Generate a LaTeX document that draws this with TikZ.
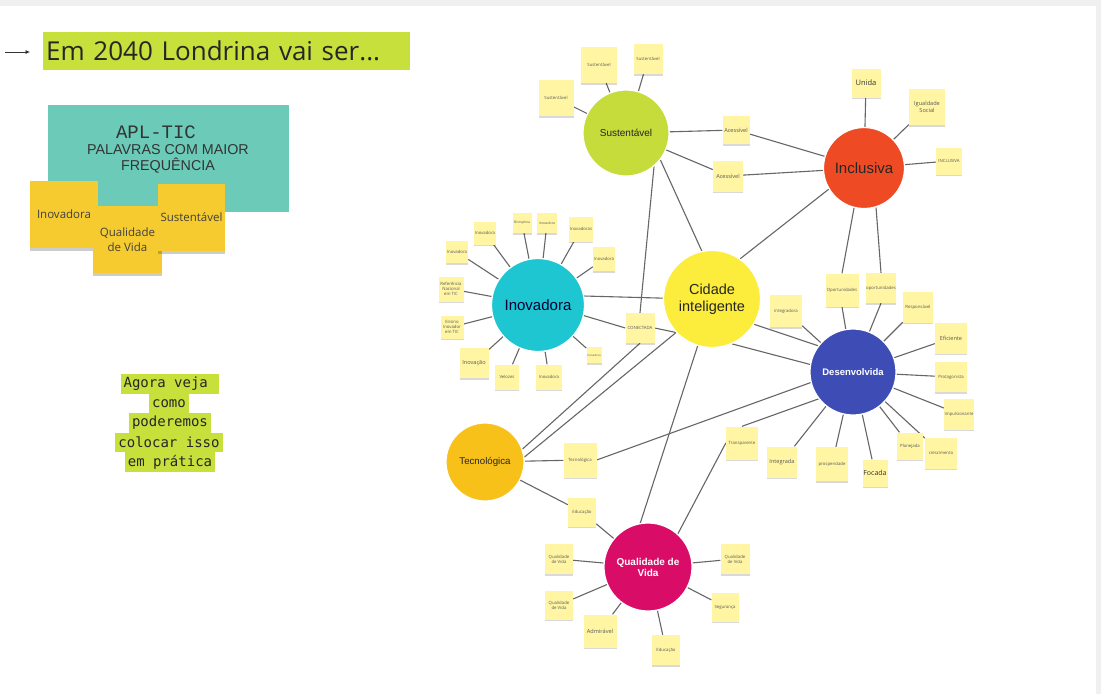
\documentclass[tikz,border=0pt]{standalone}
\usepackage{fontspec}
\setmainfont{Open Sans}
\setsansfont{Liberation Sans}
\setmonofont{Liberation Mono}
\newfontfamily\platemono{DejaVu Sans Mono}
\usepackage{xcolor}
\usetikzlibrary{arrows.meta,positioning,shadows,backgrounds}
\definecolor{limao}{HTML}{C8E03C}
\definecolor{turquesa}{HTML}{6BCBB8}
\definecolor{notaforte}{HTML}{F5CB30}
\definecolor{notaclara}{HTML}{FFF5A3}
\definecolor{sustverde}{HTML}{C5DC3B}
\definecolor{inclver}{HTML}{EE4B25}
\definecolor{inovciano}{HTML}{1EC6D2}
\definecolor{cidamarelo}{HTML}{FCEC3B}
\definecolor{desazul}{HTML}{3E4DB6}
\definecolor{tecouro}{HTML}{F8C11A}
\definecolor{qdvmagenta}{HTML}{D90D68}
\definecolor{linha}{HTML}{666666}
\newcommand\letrap{\fontsize{4.3}{5}\selectfont}
\newcommand\letram{\fontsize{5.6}{6.6}\selectfont}
\newcommand\letrag{\fontsize{7.5}{9}\selectfont}

\begin{document}
\begin{tikzpicture}[
    x=1pt,y=-1pt,
    bolha/.style  = {circle,draw=white,line width=1.2pt,inner sep=0pt,
                     align=center,font=\sffamily,text=black!85},
    nota/.style   = {rectangle,fill=notaclara,align=center,inner sep=0.5pt,
                     font=\letrap,text=black!65,minimum width=30pt,
                     minimum height=30pt,
                     drop shadow={shadow xshift=0pt,shadow yshift=-1.5pt,
                                  opacity=.15,fill=black}},
    tam/.style 2 args = {minimum width=#1pt,minimum height=#2pt},
    postit/.style = {rectangle,fill=notaforte,align=center,inner sep=1pt,
                     font=\fontsize{11.5}{15}\selectfont,text=black!75,
                     minimum width=68pt,minimum height=67pt,
                     drop shadow={shadow xshift=0pt,shadow yshift=-3pt,
                                  opacity=.2,fill=black}},
    marca/.style  = {fill=limao,inner xsep=3pt,inner ysep=0pt,text=black!85},
    liga/.style   = {draw=linha,line width=1.1pt},
  ]
  \useasboundingbox (0,0) rectangle (1101,694);
  \begin{scope}[on background layer]
    \fill[gray!12] (0,0) rectangle (1101,694);
    \fill[white] (0,6) rectangle (1096,694);
  \end{scope}

  % ── Titulo ──────────────────────────────────────────────────────────────
  \node[marca,anchor=west,minimum height=38pt,text width=361pt,align=left,
        font=\fontsize{26}{30}\selectfont] (titulo) at (43,51)
        {Em 2040 Londrina vai ser...};
  \coordinate (fa) at (5,52);
  \coordinate (fb) at (30,52);
  \draw[-{Latex[length=4.5pt,width=4pt]},line width=0.7pt,black!80] (fa) -- (fb);

  % ── APL-TIC ─────────────────────────────────────────────────────────────
  \node[rectangle,fill=turquesa,minimum width=241pt,minimum height=107pt]
        (apl) at (168.5,158.5) {};
  \node[font=\ttfamily\fontsize{19}{20}\selectfont,text=black!80,inner sep=0pt]
        (apltit) at (156,132.5) {APL-TIC};
  \node[font=\sffamily\fontsize{14.3}{15.5}\selectfont,align=center,
        text=black!80,inner sep=0pt] (aplsub) at (168,159)
        {PALAVRAS COM MAIOR\\FREQUÊNCIA};
  \node[postit] (pt1) at (64,214.5) {Inovadora};
  \node[postit,tam={69}{67}] (pt2) at (127.5,239.5) {Qualidade\\de Vida};
  \node[postit,tam={67}{67}] (pt3) at (191.5,217.5) {Sustentável};

  % ── Agora veja ──────────────────────────────────────────────────────────
  \tikzset{agora/.style={marca,minimum height=19.5pt,
                         font=\platemono\fontsize{14}{17}\selectfont}}
  \node[agora] (ag1) at (170,384) {Agora veja\phantom{ }};
  \node[agora] (ag2) at (169,403.5) {como};
  \node[agora] (ag3) at (170,423) {poderemos};
  \node[agora] (ag4) at (169,442.5) {colocar isso};
  \node[agora] (ag5) at (170,462) {em prática};

  % ── Bolhas ──────────────────────────────────────────────────────────────
  \node[bolha,fill=sustverde,minimum size=86pt,
        font=\sffamily\fontsize{10}{12}\selectfont] (sus) at (626,133) {Sustentável};
  \node[bolha,fill=inclver,minimum size=81pt,
        font=\sffamily\fontsize{15}{17}\selectfont] (inc) at (864,168) {Inclusiva};
  \node[bolha,fill=inovciano,minimum size=93pt,text=black!80!blue,
        font=\sffamily\fontsize{15}{17}\selectfont] (ino) at (538,305) {Inovadora};
  \node[bolha,fill=cidamarelo,minimum size=97pt,
        font=\sffamily\fontsize{14.5}{17}\selectfont] (cid) at (712,299)
        {Cidade\\inteligente};
  \node[bolha,fill=desazul,minimum size=86pt,text=white,
        font=\sffamily\bfseries\fontsize{9.5}{11}\selectfont] (des) at (853,372)
        {Desenvolvida};
  \node[bolha,fill=tecouro,minimum size=78pt,
        font=\sffamily\fontsize{9.7}{11}\selectfont] (tec) at (485,462) {Tecnológica};
  \node[bolha,fill=qdvmagenta,minimum size=88pt,text=white,
        font=\sffamily\bfseries\fontsize{10}{11}\selectfont] (qdv) at (648,567)
        {Qualidade de\\Vida};

  % ── Notas: sustentavel / inclusiva ──────────────────────────────────────
  \node[nota,tam={35}{36}] (ns1) at (556,98) {Sustentável};
  \node[nota,tam={36}{36}] (ns2) at (599,65) {Sustentável};
  \node[nota,tam={29}{30}] (ns3) at (648,59) {Sustentável};
  \node[nota,tam={27}{28},font=\letram] (nac1) at (736,130) {Acessível};
  \node[nota,tam={30}{31},font=\letram] (nac2) at (728,176) {Acessível};
  \node[nota,tam={29}{29},font=\letrag,text=black!80] (nun) at (866,83) {Unida};
  \node[nota,tam={36}{36},font=\letram] (nig) at (927,107) {Igualdade\\Social};
  \node[nota,tam={26}{27}] (nic) at (949,161) {INCLUSIVA};

  % ── Notas: inovadora ────────────────────────────────────────────────────
  \node[nota,tam={22}{23}] (ni1) at (485,233) {Inovadora};
  \node[nota,tam={22}{22}] (ni2) at (457,252) {Inovadora};
  \node[nota,tam={25}{25}] (nrf) at (451,289) {Referência\\Nacional\\em TIC};
  \node[nota,tam={23}{23}] (nen) at (452,327) {Ensino\\Inovador\\em TIC};
  \node[nota,tam={29}{30},font=\letram] (nin) at (474,363) {Inovação};
  \node[nota,tam={24}{25}] (nve) at (507,377) {Velozes};
  \node[nota,tam={26}{25}] (ni3) at (549,377) {Inovadora};
  \node[nota,tam={15}{16},font=\fontsize{2.8}{3}\selectfont] (ni4) at (594,355) {Inovadora};
  \node[nota,tam={19}{20},font=\fontsize{3.4}{4}\selectfont] (ndi) at (522,223) {Disruptiva};
  \node[nota,tam={20}{20},font=\fontsize{3.4}{4}\selectfont] (ni5) at (547,223) {Inovadora};
  \node[nota,tam={23}{25}] (ni6) at (581,229) {Inovadoras};
  \node[nota,tam={22}{24}] (ni7) at (604,259) {Inovadora};
  \node[nota,tam={29}{30}] (ncon) at (640,328) {CONECTADA};

  % ── Notas: desenvolvida ─────────────────────────────────────────────────
  \node[nota,tam={32}{32}] (nitg) at (786,311) {Integradora};
  \node[nota,tam={33}{33}] (nop1) at (842,290) {Oportunidades};
  \node[nota,tam={30}{30}] (nop2) at (881,288) {oportunidades};
  \node[nota,tam={30}{31}] (nres) at (918,307) {Responsável};
  \node[nota,tam={32}{31},font=\letram] (nef) at (951,338) {Eficiente};
  \node[nota,tam={32}{30}] (npr) at (951,377) {Protagonista};
  \node[nota,tam={28}{31}] (nim) at (959,414) {Impulsionante};
  \node[nota,tam={32}{31}] (ncr) at (941,453) {crescimento};
  \node[nota,tam={26}{27}] (npl) at (910,446) {Planejada};
  \node[nota,tam={25}{27},font=\fontsize{7}{8}\selectfont,text=black!80] (nfo) at (875,473) {Focada};
  \node[nota,tam={32}{34}] (npp) at (832,464) {prosperidade};
  \node[nota,tam={30}{31},font=\letram] (nint) at (782,462) {Integrada};
  \node[nota,tam={32}{33}] (ntr) at (742,443) {Transparente};
  \node[nota,tam={33}{35}] (ntc) at (580,460) {Tecnológica};
  \node[nota,tam={28}{29}] (ned1) at (582,512) {Educação};

  % ── Notas: qualidade de vida ────────────────────────────────────────────
  \node[nota,tam={28}{30}] (nq1) at (559,559) {Qualidade\\de Vida};
  \node[nota,tam={28}{29}] (nq2) at (559,605) {Qualidade\\de Vida};
  \node[nota,tam={33}{33},font=\letram] (nad) at (600,631) {Admirável};
  \node[nota,tam={28}{30}] (ned2) at (666,650) {Educação};
  \node[nota,tam={27}{29}] (nse) at (725,607) {Segurança};
  \node[nota,tam={29}{30}] (nq3) at (735,559) {Qualidade\\de Vida};

  % ── Ligacoes ────────────────────────────────────────────────────────────
  \begin{scope}[on background layer]
    \foreach \n in {ns1,ns2,ns3,nac1,nac2} \draw[liga] (sus) -- (\n);
    \foreach \n in {nac1,nac2,nun,nig,nic} \draw[liga] (\n) -- (inc);
    \foreach \n in {ni1,ni2,nrf,nen,nin,nve,ni3,ni4,ndi,ni5,ni6,ni7}
      \draw[liga] (ino) -- (\n);
    \foreach \n in {nitg,nres,nef,npr,nim,ncr,npl,nfo,npp,nint}
      \draw[liga] (des) -- (\n);
    \foreach \n in {nq1,nq2,nad,ned2,nse,nq3} \draw[liga] (qdv) -- (\n);
    \draw[liga] (des) -- (nop1.south);
    \draw[liga] (des) -- (nop2.south);
    \draw[liga] (inc.256) -- (nop1.north);
    \draw[liga] (inc.287) -- (nop2.north);
    \draw[liga] (sus.-38) -- (cid.102);
    \draw[liga] (sus.-50) -- (ncon.north);
    \draw[liga] (inc.211) -- (cid.55);
    \draw[liga] (ino.11) -- (cid.179);
    \draw[liga] (ino.-13) -- (ncon.west);
    \draw[liga] (ncon.east) -- (cid.223);
    \draw[liga] (ncon.south) -- (tec.19);
    \draw[liga] (cid.223) -- (tec.7);
    \draw[liga] (cid.-31) -- (des.143);
    \draw[liga] (cid.-66) -- (des.170);
    \draw[liga] (cid.253) -- (qdv.100);
    \draw[liga] (des.194) -- (ntc.east);
    \draw[liga] (ntr.north) -- (des.218);
    \draw[liga] (ntr.west) -- (qdv.48);
    \draw[liga] (tec) -- (ntc);
    \draw[liga] (tec) -- (ned1);
    \draw[liga] (ned1) -- (qdv);
  \end{scope}

\end{tikzpicture}
\end{document}
